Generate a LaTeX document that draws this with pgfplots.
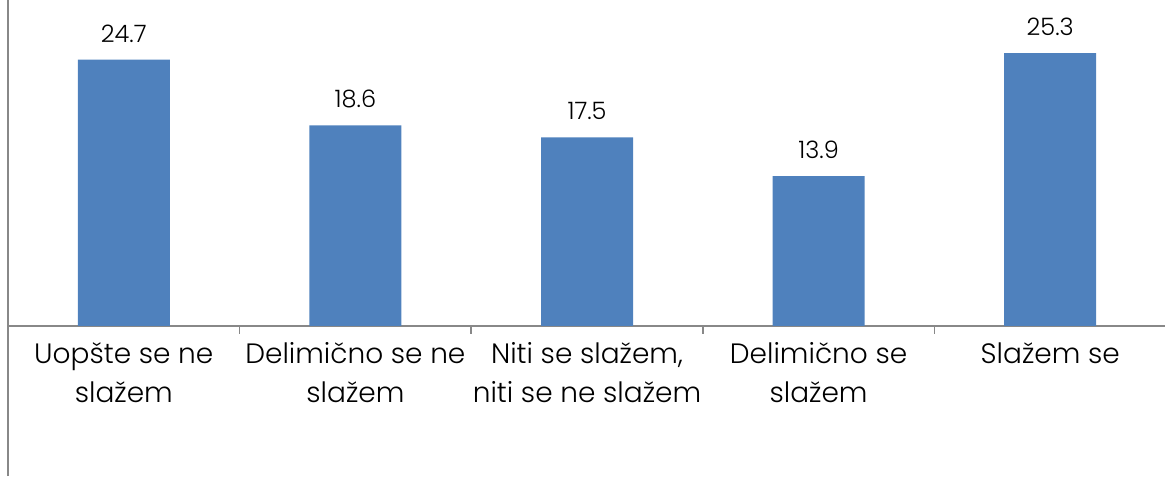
\documentclass[border=0pt]{standalone}
\usepackage{fontspec}
\setmainfont{Poppins}[UprightFont=* Light]
\usepackage{pgfplots}
\pgfplotsset{compat=1.18}
\definecolor{barblue}{HTML}{4F81BD}
\definecolor{axgray}{HTML}{888888}

\begin{document}
\begin{tikzpicture}
\useasboundingbox (-4pt,0pt) rectangle (578.5pt,238pt);
\begin{axis}[
  at={(0,0)}, anchor=south west,
  scale only axis, width=579pt, height=238pt,
  xmin=-0.5, xmax=4.5, ymin=-13.92, ymax=30.24,
  axis x line=middle, axis y line=left,
  axis line style={-, draw=axgray, line width=0.75pt},
  ytick=\empty,
  xtick={-0.5,0.5,1.5,2.5,3.5,4.5},
  xticklabels={},
  tick align=outside,
  major tick length=4pt,
  x tick style={draw=axgray, line width=0.75pt},
  extra x ticks={0,1,2,3,4},
  extra x tick labels={Uopšte se ne\\slažem, Delimično se ne\\slažem, {Niti se slažem,\\niti se ne slažem}, Delimično se\\slažem, Slažem se},
  extra x tick style={major tick length=0pt,
    tick label style={font=\fontsize{14}{19.5}\selectfont, align=center, anchor=north, inner sep=0pt, yshift=-8pt}},
  /pgf/number format/assume math mode=true,
  ybar, bar width=46pt,
  nodes near coords,
  nodes near coords style={font=\fontsize{12}{14}\selectfont, anchor=south, inner sep=0pt, yshift=8.5pt,
    /pgf/number format/.cd, fixed, fixed zerofill, precision=1},
  clip=false,
]
\addplot[fill=barblue, draw=none] coordinates {(0,24.7) (1,18.6) (2,17.5) (3,13.9) (4,25.3)};
\end{axis}
\end{tikzpicture}
\end{document}
